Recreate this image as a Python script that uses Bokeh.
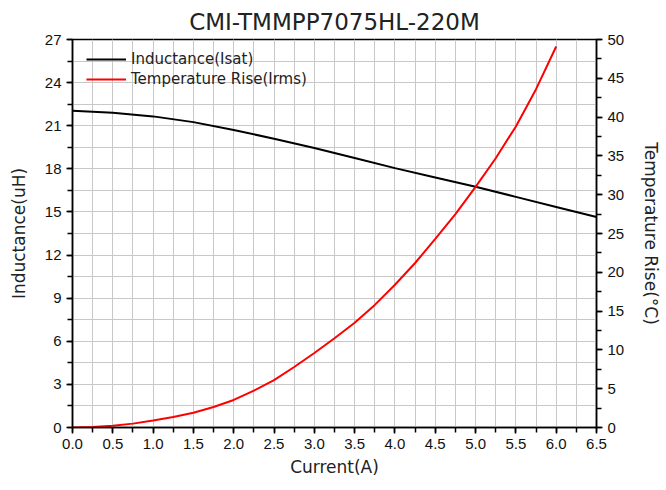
from bokeh.plotting import figure
from bokeh.models import Range1d, LinearAxis, FixedTicker, Legend, LegendItem
from bokeh.embed import file_html
from bokeh.resources import INLINE

current_l = [0.0, 0.5, 1.0, 1.5, 2.0, 2.5, 3.0, 3.5, 4.0, 4.5, 5.0, 5.5, 6.0, 6.5]
inductance = [22.05, 21.9, 21.65, 21.25, 20.7, 20.1, 19.45, 18.75, 18.05, 17.4, 16.75, 16.05, 15.35, 14.65]

current_t = [0.0, 0.25, 0.5, 0.75, 1.0, 1.25, 1.5, 1.75, 2.0, 2.25, 2.5, 2.75, 3.0,
             3.25, 3.5, 3.75, 4.0, 4.25, 4.5, 4.75, 5.0, 5.25, 5.5, 5.75, 6.0]
temp_rise = [0.0, 0.05, 0.22, 0.5, 0.9, 1.35, 1.9, 2.65, 3.55, 4.75, 6.1, 7.8, 9.6,
             11.5, 13.5, 15.8, 18.4, 21.2, 24.3, 27.5, 31.0, 34.7, 38.8, 43.6, 49.1]

x_ticks = [0.0, 0.5, 1.0, 1.5, 2.0, 2.5, 3.0, 3.5, 4.0, 4.5, 5.0, 5.5, 6.0, 6.5]
y_ticks = [0, 3, 6, 9, 12, 15, 18, 21, 24, 27]
y2_ticks = [0, 5, 10, 15, 20, 25, 30, 35, 40, 45, 50]

TICK_FONT = "Liberation Sans"
LABEL_FONT = "DejaVu Sans"

p = figure(width=664, height=484, output_backend="svg", toolbar_location=None,
           x_range=Range1d(0, 6.5), y_range=Range1d(0, 27),
           min_border_left=72, min_border_right=63, min_border_top=39, min_border_bottom=57)
p.extra_y_ranges = {"temp": Range1d(0, 50)}

p.title.text = "CMI-TMMPP7075HL-220M"
p.title.align = "center"
p.title.offset = -10
p.title.text_font = LABEL_FONT
p.title.text_font_size = "23px"
p.title.text_font_style = "normal"
p.title.text_color = "#222222"

p.outline_line_color = "black"
p.outline_line_width = 1.5

xt = FixedTicker(ticks=x_ticks, minor_ticks=[i * 0.25 for i in range(27)])
yt = FixedTicker(ticks=y_ticks, minor_ticks=[i * 1.5 for i in range(19)])
y2t = FixedTicker(ticks=y2_ticks, minor_ticks=[i * 2.5 for i in range(21)])

p.xaxis.ticker = xt
p.yaxis.ticker = yt
p.xaxis.major_label_overrides = {v: f"{v:.1f}" for v in x_ticks}

for g in (p.xgrid, p.ygrid):
    g.grid_line_color = "#c8c8c8"
    g.grid_line_width = 1
    g.minor_grid_line_color = "#c8c8c8"
    g.minor_grid_line_width = 1

p.xgrid.ticker = xt
p.ygrid.ticker = yt

p.xaxis.axis_label = "Current(A)"
p.yaxis[0].axis_label = "Inductance(uH)"

ax2 = LinearAxis(y_range_name="temp", ticker=y2t, axis_label="Temperature Rise(°C)")
p.add_layout(ax2, "right")

for ax in (p.xaxis[0], p.yaxis[0], ax2):
    ax.axis_line_color = "black"
    ax.axis_line_width = 1.5
    ax.major_tick_line_color = "black"
    ax.minor_tick_line_color = "black"
    ax.major_tick_line_width = 1.5
    ax.minor_tick_line_width = 1.5
    ax.major_tick_in = 0
    ax.major_tick_out = 6
    ax.minor_tick_in = 0
    ax.minor_tick_out = 5
    ax.major_label_text_font = TICK_FONT
    ax.major_label_text_font_size = "15px"
    ax.major_label_text_color = "#111111"
    ax.axis_label_text_font = LABEL_FONT
    ax.axis_label_text_font_size = "17px"
    ax.axis_label_text_font_style = "normal"
    ax.axis_label_text_color = "#222222"

p.yaxis[0].axis_label_standoff = 13
ax2.axis_label_standoff = 14

r1 = p.line(current_l, inductance, line_color="black", line_width=2)
r2 = p.line(current_t, temp_rise, line_color="#ff0000", line_width=2, y_range_name="temp")

legend = Legend(items=[LegendItem(label="Inductance(Isat)", renderers=[r1]),
                       LegendItem(label="Temperature Rise(Irms)", renderers=[r2])],
                location=(14, 338))
legend.border_line_color = None
legend.background_fill_alpha = 0
legend.padding = 5
legend.margin = 0
legend.spacing = 0
legend.glyph_width = 40
legend.glyph_height = 20
legend.label_height = 20
legend.label_standoff = 5
legend.label_text_font = LABEL_FONT
legend.label_text_font_size = "15px"
legend.label_text_color = "#222222"
p.add_layout(legend, "center")

open("out.html", "w").write(file_html(p, INLINE))
